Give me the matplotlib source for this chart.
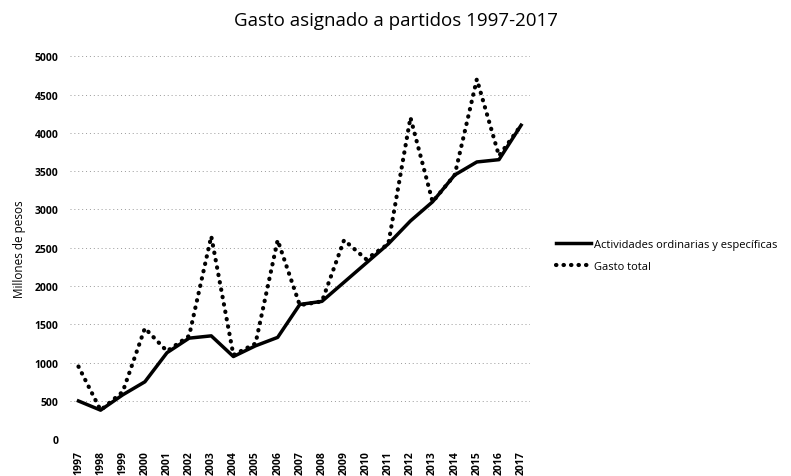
import matplotlib
matplotlib.use("Agg")
import matplotlib.pyplot as plt

years = list(range(1997, 2018))
actividades = [500, 380, 580, 750, 1130, 1320, 1350, 1080, 1220, 1330, 1760, 1800, 2050, 2300, 2550, 2850, 3100, 3450, 3620, 3650, 4100]
gasto_total = [950, 380, 620, 1450, 1150, 1350, 2650, 1100, 1250, 2600, 1750, 1800, 2600, 2350, 2550, 4200, 3100, 3450, 4700, 3700, 4100]
yticks = [0, 500, 1000, 1500, 2000, 2500, 3000, 3500, 4000, 4500, 5000]

plt.rcParams['font.family'] = ['Open Sans', 'DejaVu Sans']

fig = plt.figure(figsize=(7.91, 4.77), dpi=100)
ax = fig.add_axes([0.088, 0.077, 0.582, 0.803])

ax.plot(years, actividades, color='black', linewidth=2.5, label='Actividades ordinarias y específicas', zorder=3)
ax.plot(years, gasto_total, color='black', linewidth=3, linestyle=(0, (0.1, 1.7)),
        dash_capstyle='round', label='Gasto total', zorder=3)

ax.set_xlim(1996.6, 2017.4)
ax.set_ylim(0, 5000)
ax.set_yticks(yticks)
ax.set_yticklabels([str(v) for v in yticks], fontsize=7.5, fontweight='bold')
ax.set_xticks(years)
ax.set_xticklabels([str(y) for y in years], rotation=90, fontsize=7.5, fontweight='bold')
ax.yaxis.grid(True, color='#999999', linestyle=(0, (1, 3)), linewidth=0.7)
ax.tick_params(length=0, pad=8)
for s in ax.spines.values():
    s.set_visible(False)

ax.set_ylabel('Millones de pesos', fontsize=8.5, labelpad=6)
fig.suptitle('Gasto asignado a partidos 1997-2017', x=0.5, y=0.975, fontsize=13.5)

fig.legend(loc='center left', bbox_to_anchor=(0.69, 0.463), frameon=False,
           fontsize=8, handlelength=3.2, handletextpad=0.2, labelspacing=1.0)

fig.savefig('out.png', dpi=100, facecolor='white')
